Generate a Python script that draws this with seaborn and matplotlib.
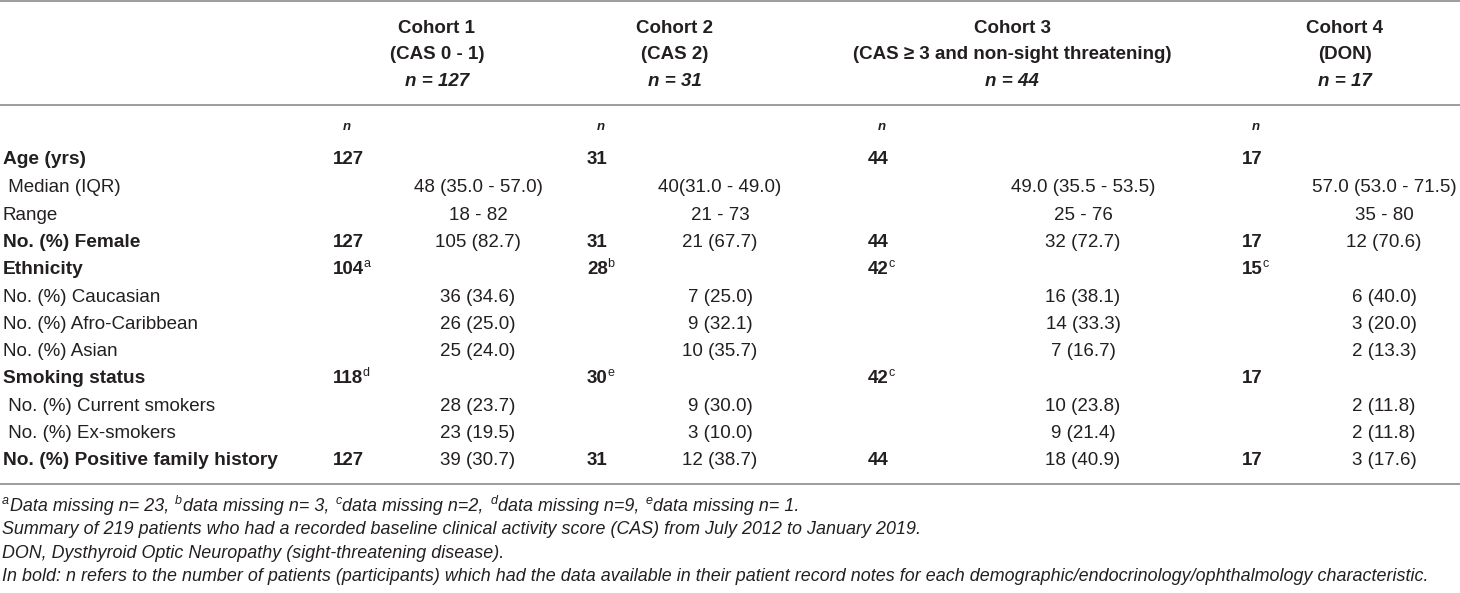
import matplotlib
matplotlib.use("Agg")
import matplotlib.pyplot as plt
from matplotlib import font_manager
from matplotlib.font_manager import FontProperties
import seaborn as sns

# ---------------- data ----------------
cohort_titles = ["Cohort 1", "Cohort 2", "Cohort 3", "Cohort 4"]
cohort_subtitles = ["(CAS 0 - 1)", "(CAS 2)", "(CAS \u2265 3 and non-sight threatening)", "(DON)"]
cohort_n = ["127", "31", "44", "17"]

row_labels = ["Age (yrs)", " Median (IQR)", "Range", "No. (%) Female", "Ethnicity",
              "No. (%) Caucasian", "No. (%) Afro-Caribbean", "No. (%) Asian",
              "Smoking status", " No. (%) Current smokers", " No. (%) Ex-smokers",
              "No. (%) Positive family history"]
row_bold = [True, False, False, True, True, False, False, False, True, False, False, True]

n_c1 = ["127", "", "", "127", "104", "", "", "", "118", "", "", "127"]
n_c2 = ["31", "", "", "31", "28", "", "", "", "30", "", "", "31"]
n_c3 = ["44", "", "", "44", "42", "", "", "", "42", "", "", "44"]
n_c4 = ["17", "", "", "17", "15", "", "", "", "17", "", "", "17"]
sup_c1 = ["", "", "", "", "a", "", "", "", "d", "", "", ""]
sup_c2 = ["", "", "", "", "b", "", "", "", "e", "", "", ""]
sup_c3 = ["", "", "", "", "c", "", "", "", "c", "", "", ""]
sup_c4 = ["", "", "", "", "c", "", "", "", "", "", "", ""]

val_c1 = ["", "48 (35.0 - 57.0)", "18 - 82", "105 (82.7)", "", "36 (34.6)", "26 (25.0)",
          "25 (24.0)", "", "28 (23.7)", "23 (19.5)", "39 (30.7)"]
val_c2 = ["", "40(31.0 - 49.0)", "21 - 73", "21 (67.7)", "", "7 (25.0)", "9 (32.1)",
          "10 (35.7)", "", "9 (30.0)", "3 (10.0)", "12 (38.7)"]
val_c3 = ["", "49.0 (35.5 - 53.5)", "25 - 76", "32 (72.7)", "", "16 (38.1)", "14 (33.3)",
          "7 (16.7)", "", "10 (23.8)", "9 (21.4)", "18 (40.9)"]
val_c4 = ["", "57.0 (53.0 - 71.5)", "35 - 80", "12 (70.6)", "", "6 (40.0)", "3 (20.0)",
          "2 (13.3)", "", "2 (11.8)", "2 (11.8)", "3 (17.6)"]

footnote_sups = ["a", "b", "c", "d", "e"]
footnote_texts = ["Data missing n= 23, ", "data missing n= 3, ", "data missing n=2, ",
                  "data missing n=9, ", "data missing n= 1."]
notes = ["Summary of 219 patients who had a recorded baseline clinical activity score (CAS) from July 2012 to January 2019.",
         "DON, Dysthyroid Optic Neuropathy (sight-threatening disease).",
         "In bold: n refers to the number of patients (participants) which had the data available in their patient record notes for each demographic/endocrinology/ophthalmology characteristic."]

# ---------------- style ----------------
sns.set_theme(style="white")


def pick(names):
    for nm in names:
        try:
            font_manager.findfont(nm, fallback_to_default=False)
            return nm
        except Exception:
            pass
    return "DejaVu Sans"


FAM = [pick(["Liberation Sans", "Arial"]), "DejaVu Sans"]
plt.rcParams["font.family"] = FAM
TXT = "#231f20"
LINE = "#9d9d9d"
FS = 13.5
FS_BOLD = 13.8
FS_NOTE = 12.9
FS_SUP = 9.0

W, H = 1460, 593
fig = plt.figure(figsize=(W / 100, H / 100), dpi=100)
ax = fig.add_axes([0, 0, 1, 1])
ax.set_xlim(0, W)
ax.set_ylim(H, 0)
ax.axis("off")
sns.despine(ax=ax, left=True, bottom=True)
renderer = fig.canvas.get_renderer()


def text_w(s, size, weight="normal", style="normal"):
    fp = FontProperties(family=FAM, size=size, weight=weight, style=style)
    w, h, d = renderer.get_text_width_height_descent(s, fp, ismath=False)
    return w  # pixels == data units here


# layout (pixel positions)
n_left = [333, 587, 868, 1242]
val_ctr = [478, 720, 1083, 1384]
head_ctr = [437, 675, 1012, 1345]
row_ys = [158] + [186 + 27.3 * i for i in range(len(row_labels) - 1)]
CAP = 6.3  # half cap height offset to baseline

for yl in (1, 105, 484):
    ax.plot([0, W], [yl, yl], color=LINE, lw=1.4, solid_capstyle="butt")

# header
for i in range(4):
    ax.text(head_ctr[i], 27 + CAP, cohort_titles[i], ha="center", va="baseline",
            fontsize=FS, fontweight="bold", color=TXT)
    ax.text(head_ctr[i], 53 + CAP, cohort_subtitles[i], ha="center", va="baseline",
            fontsize=FS, fontweight="bold", color=TXT)
    ax.text(head_ctr[i], 80 + CAP, "n = " + cohort_n[i], ha="center", va="baseline",
            fontsize=FS, fontweight="bold", fontstyle="italic", color=TXT)
    ax.text(n_left[i] + 14, 126 + 4, "n", ha="center", va="baseline",
            fontsize=9.5, fontweight="bold", fontstyle="italic", color=TXT)

ns = [n_c1, n_c2, n_c3, n_c4]
sups = [sup_c1, sup_c2, sup_c3, sup_c4]
vals = [val_c1, val_c2, val_c3, val_c4]

for r, lab in enumerate(row_labels):
    yb = row_ys[r] + CAP
    ax.text(3, yb, lab, ha="left", va="baseline",
            fontsize=FS_BOLD if row_bold[r] else FS,
            fontweight="bold" if row_bold[r] else "normal", color=TXT)
    for c in range(4):
        if ns[c][r]:
            ax.text(n_left[c], yb, ns[c][r], ha="left", va="baseline", fontsize=FS,
                    fontweight="bold", color=TXT)
            if sups[c][r]:
                x1 = n_left[c] + text_w(ns[c][r], FS, weight="bold")
                ax.text(x1 - 0.5, yb - 7.5, sups[c][r], ha="left", va="baseline",
                        fontsize=FS_SUP, color=TXT)
        if vals[c][r]:
            ax.text(val_ctr[c], yb, vals[c][r], ha="center", va="baseline",
                    fontsize=FS, color=TXT)

# footnotes
fy = [505, 528, 552, 575]
x = 2
for s, tx in zip(footnote_sups, footnote_texts):
    ax.text(x, fy[0] + CAP - 7.5, s, ha="left", va="baseline", fontsize=FS_SUP,
            fontstyle="italic", color=TXT)
    x += text_w(s, FS_SUP, style="italic") + 0.5
    ax.text(x, fy[0] + CAP, tx, ha="left", va="baseline", fontsize=FS_NOTE,
            fontstyle="italic", color=TXT)
    x += text_w(tx, FS_NOTE, style="italic") + 1.5
for k, nt in enumerate(notes):
    ax.text(2, fy[k + 1] + CAP, nt, ha="left", va="baseline", fontsize=FS_NOTE,
            fontstyle="italic", color=TXT)

fig.savefig("out.png", dpi=100, facecolor="white")
